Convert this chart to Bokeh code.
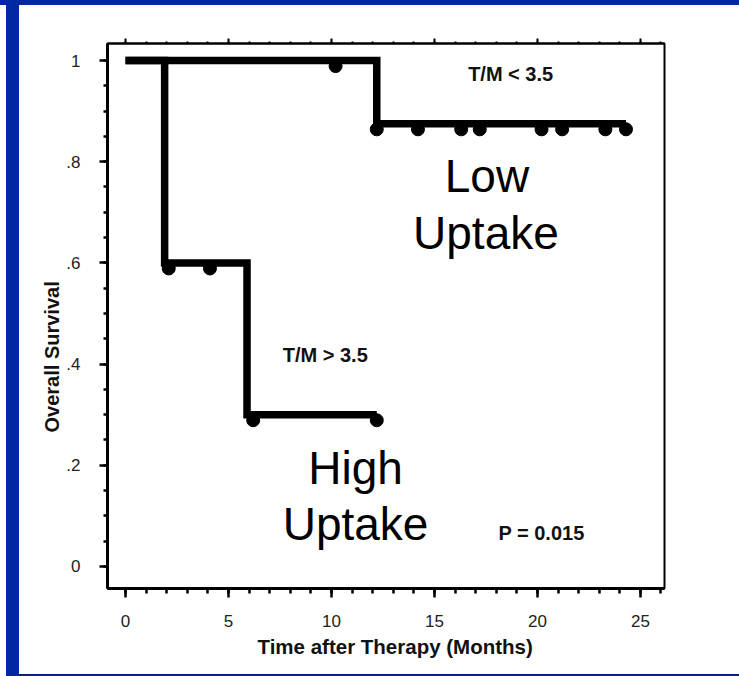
from bokeh.plotting import figure
from bokeh.models import FixedTicker, LinearAxis, Label, ColumnDataSource, Div, Spacer, Range1d, Title
from bokeh.layouts import column, row
from bokeh.transform import dodge
from bokeh.embed import file_html
from bokeh.resources import INLINE

# ---- data ----
low_times = [0, 12.2, 24.3]
low_surv = [1.0, 0.875, 0.875]
high_times = [0, 1.9, 5.9, 12.2]
high_surv = [1.0, 0.6, 0.3, 0.3]
low_censor_t = [10.2, 12.2, 14.2, 16.3, 17.2, 20.2, 21.2, 23.3, 24.3]
low_censor_s = [1.0, 0.875, 0.875, 0.875, 0.875, 0.875, 0.875, 0.875, 0.875]
high_censor_t = [2.1, 4.1, 6.2, 12.2]
high_censor_s = [0.6, 0.6, 0.3, 0.3]
x_ticks = [0, 5, 10, 15, 20, 25]
x_minor = [0, 1, 2, 3, 4, 5, 6, 7, 8, 9, 10, 11, 12, 13, 14, 15, 16, 17, 18, 19, 20, 21, 22, 23, 24, 25, 26]
y_ticks = [0, 0.2, 0.4, 0.6, 0.8, 1.0]
y_tick_labels = ["0", ".2", ".4", ".6", ".8", "1"]
y_minor = [0, 0.05, 0.1, 0.15, 0.2, 0.25, 0.3, 0.35, 0.4, 0.45, 0.5, 0.55, 0.6, 0.65, 0.7, 0.75, 0.8, 0.85, 0.9, 0.95, 1.0]

FONT = "Liberation Sans"
BLUE = "#0028A0"

p = figure(width=720, height=669, x_range=Range1d(-0.874, 26.17), y_range=Range1d(-0.0435, 1.0336),
           output_backend="svg", toolbar_location=None,
           min_border_left=88, min_border_right=75, min_border_top=38, min_border_bottom=86)
p.xgrid.visible = False
p.ygrid.visible = False
p.outline_line_color = "black"
p.outline_line_width = 2
p.background_fill_color = "white"
p.border_fill_color = "white"

# axes
p.xaxis.ticker = FixedTicker(ticks=x_ticks, minor_ticks=x_minor)
p.yaxis.ticker = FixedTicker(ticks=y_ticks, minor_ticks=y_minor)
p.yaxis.major_label_overrides = {t: l for t, l in zip(y_ticks, y_tick_labels)}
for ax in (p.xaxis[0], p.yaxis[0]):
    ax.axis_line_width = 3
    ax.major_tick_line_width = 2.5
    ax.minor_tick_line_width = 2.5
    ax.major_tick_in = 0
    ax.minor_tick_in = 0
    ax.major_label_text_font = FONT
    ax.major_label_text_font_size = "17px"
    ax.major_label_text_color = "#222222"
p.xaxis.major_tick_out = 9
p.xaxis.minor_tick_out = 5
p.xaxis.major_label_standoff = 17
p.yaxis.major_tick_out = 8
p.yaxis.minor_tick_out = 4
p.yaxis.major_label_standoff = 19

top = LinearAxis(ticker=FixedTicker(ticks=x_ticks, minor_ticks=x_minor),
                 axis_line_width=2, major_tick_out=5, major_tick_in=0,
                 minor_tick_out=2, minor_tick_in=0, major_tick_line_width=2,
                 minor_tick_line_width=2, major_label_text_color=None,
                 major_label_text_font_size="1px")
p.add_layout(top, "above")

# axis titles (positioned as in the reference)
p.add_layout(Title(text="Overall Survival", align="left", offset=156, standoff=2,
                   text_font=FONT, text_font_style="bold", text_font_size="20px",
                   text_color="#111111"), "left")
p.add_layout(Title(text="Time after Therapy (Months)", align="left", offset=150, standoff=6,
                   text_font=FONT, text_font_style="bold", text_font_size="20.5px",
                   text_color="#111111"), "below")

# step curves
p.step(x=low_times, y=low_surv, mode="after", line_width=7.5, line_color="black", line_join="miter")
p.step(x=high_times, y=high_surv, mode="after", line_width=7.5, line_color="black", line_join="miter")

# censor marks
csrc = ColumnDataSource(dict(t=low_censor_t + high_censor_t, s=low_censor_s + high_censor_s))
p.scatter(x="t", y=dodge("s", -0.011, range=p.y_range), source=csrc, size=13,
          marker="circle", fill_color="black", line_color="black")


def add_text(x, y, txt, size, bold):
    p.add_layout(Label(x=x, y=y, text=txt, text_align="center", text_baseline="alphabetic",
                       text_font=FONT, text_font_size=size,
                       text_font_style="bold" if bold else "normal",
                       text_color="#111111" if bold else "black"))


add_text(18.7, 0.973, "T/M < 3.5", "20px", True)
add_text(9.7, 0.417, "T/M > 3.5", "20px", True)
add_text(20.2, 0.067, "P = 0.015", "20px", True)
add_text(17.55, 0.772, "Low", "46px", False)
add_text(17.5, 0.660, "Uptake", "46px", False)
add_text(11.17, 0.195, "High", "46px", False)
add_text(11.17, 0.084, "Uptake", "46px", False)

top_band = Div(text="", width=739, height=5, margin=0, styles={"background-color": BLUE})
left_gap = Spacer(width=6, height=671, margin=0)
left_bar = Div(text="", width=13, height=671, margin=0, styles={"background-color": BLUE})
bottom_line = Div(text="", width=720, height=2, margin=0, styles={"background-color": "#0a2080"})
layout = column(top_band, row(left_gap, left_bar, column(p, bottom_line, spacing=0), spacing=0), spacing=0)

open("out.html", "w").write(file_html(layout, INLINE))
